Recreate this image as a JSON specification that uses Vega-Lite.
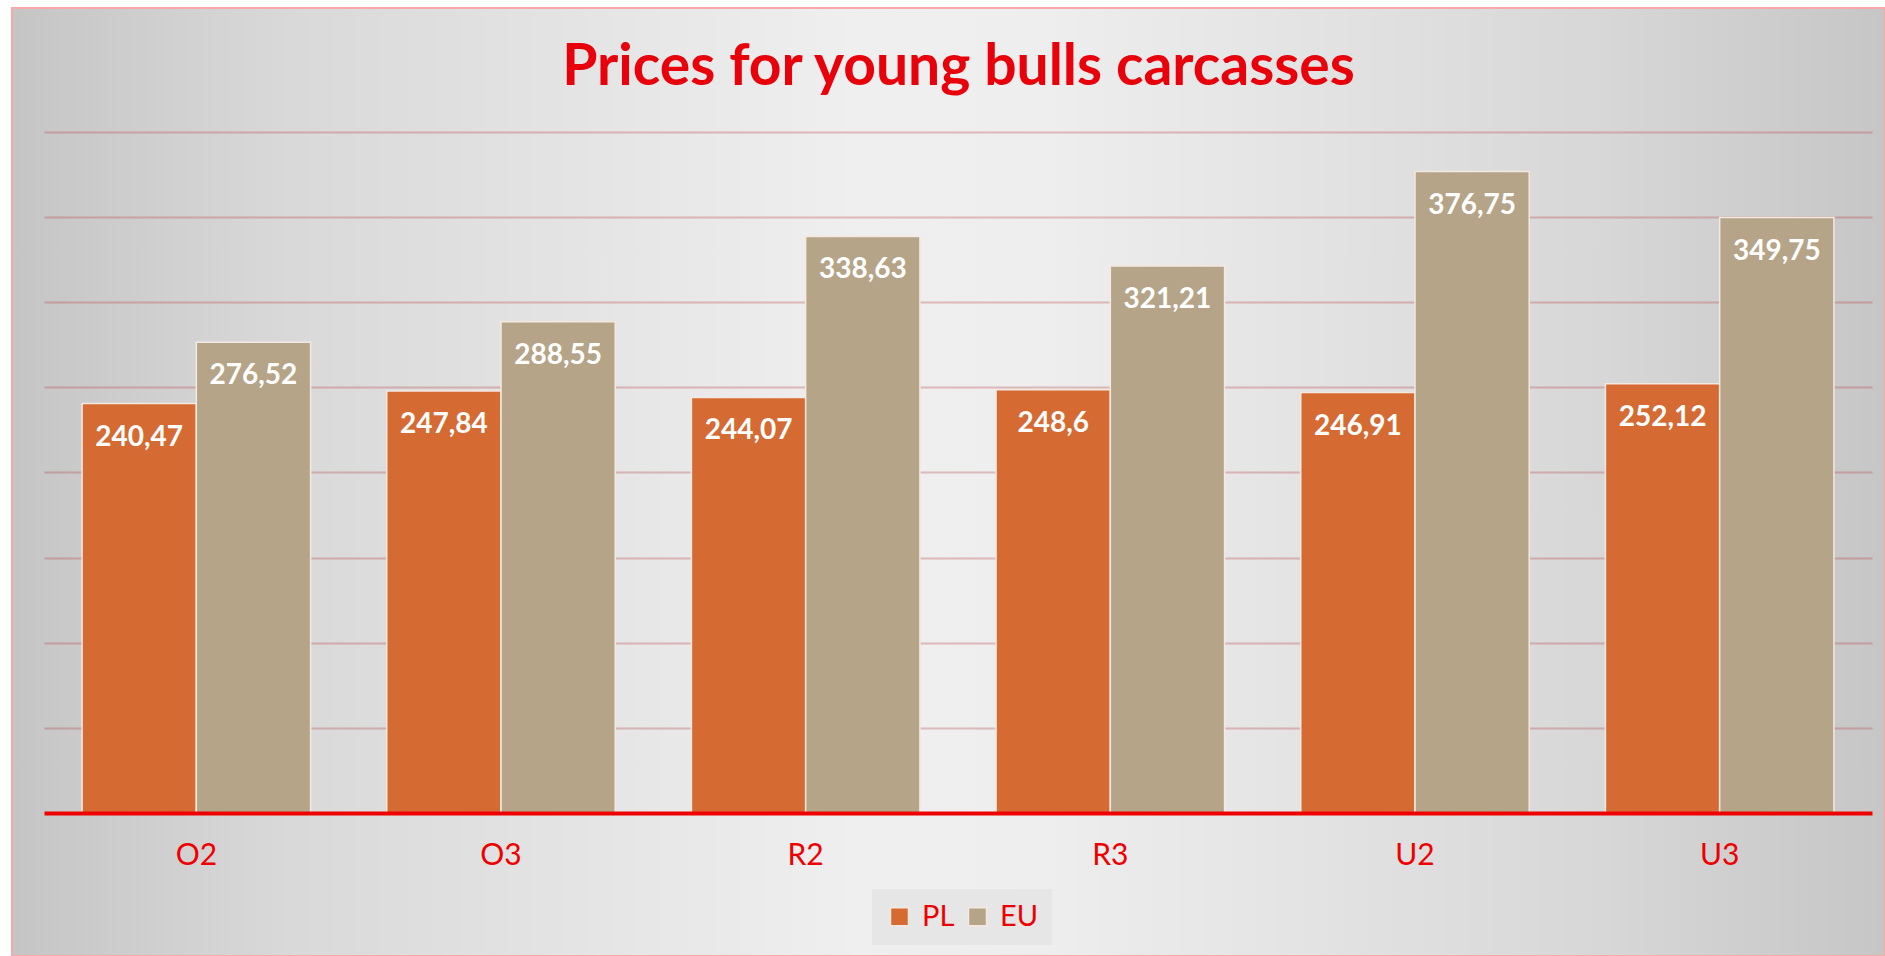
{
  "$schema": "https://vega.github.io/schema/vega-lite/v6.json",
  "width": 1873,
  "height": 948,
  "autosize": {"type": "none"},
  "padding": {"left": 12, "top": 8, "right": 0, "bottom": 0},
  "background": "#ffffff",
  "title": {
    "text": "Prices for young bulls carcasses",
    "font": "Lato",
    "fontWeight": "bold",
    "fontSize": 57,
    "color": "#e8000b",
    "anchor": "middle",
    "frame": "group",
    "baseline": "alphabetic",
    "offset": -134,
    "dx": 10
  },
  "data": {
    "values": [
      {"grade": "O2", "series": "PL", "price": 240.47},
      {"grade": "O2", "series": "EU", "price": 276.52},
      {"grade": "O3", "series": "PL", "price": 247.84},
      {"grade": "O3", "series": "EU", "price": 288.55},
      {"grade": "R2", "series": "PL", "price": 244.07},
      {"grade": "R2", "series": "EU", "price": 338.63},
      {"grade": "R3", "series": "PL", "price": 248.6},
      {"grade": "R3", "series": "EU", "price": 321.21},
      {"grade": "U2", "series": "PL", "price": 246.91},
      {"grade": "U2", "series": "EU", "price": 376.75},
      {"grade": "U3", "series": "PL", "price": 252.12},
      {"grade": "U3", "series": "EU", "price": 349.75}
    ]
  },
  "encoding": {
    "x": {
      "field": "grade",
      "type": "nominal",
      "sort": null,
      "scale": {"range": [32, 1860], "paddingInner": 0.25, "paddingOuter": 0.125},
      "axis": {
        "orient": "bottom",
        "offset": -143,
        "title": null,
        "domainColor": "#ee0000",
        "domainWidth": 4,
        "ticks": false,
        "tickSize": 0,
        "labelFont": "Lato",
        "labelFontSize": 30,
        "labelColor": "#ee0000",
        "labelPadding": 27,
        "labelAngle": 0,
        "grid": false,
        "zindex": 2
      }
    },
    "y": {
      "field": "price",
      "type": "quantitative",
      "scale": {"domain": [-84, 472.8], "nice": false, "zero": false},
      "axis": {
        "values": [50, 100, 150, 200, 250, 300, 350, 400],
        "labels": false,
        "ticks": false,
        "domain": false,
        "title": null,
        "grid": true,
        "gridColor": "#b8464e",
        "gridOpacity": 0.32,
        "gridWidth": 2,
        "zindex": 0
      }
    },
    "xOffset": {"field": "series", "type": "nominal", "sort": ["PL", "EU"]}
  },
  "layer": [
    {
      "mark": {"type": "bar", "stroke": "#f3e9e0", "strokeWidth": 1.5},
      "encoding": {
        "y2": {"datum": 0},
        "color": {
          "field": "series",
          "type": "nominal",
          "sort": ["PL", "EU"],
          "scale": {"domain": ["PL", "EU"], "range": ["#d66a33", "#b5a488"]},
          "legend": {
            "orient": "none",
            "legendX": 860,
            "legendY": 881,
            "direction": "horizontal",
            "title": null,
            "fillColor": "#e6e6e6",
            "padding": 13,
            "symbolType": "square",
            "symbolSize": 324,
            "symbolStrokeColor": "#f5e8e0",
            "symbolStrokeWidth": 1.5,
            "symbolOpacity": 1,
            "labelFont": "Lato",
            "labelFontSize": 29,
            "labelColor": "#ee0000",
            "labelOffset": 8,
            "columnPadding": 8
          }
        }
      }
    },
    {
      "mark": {
        "type": "text",
        "font": "Lato",
        "fontWeight": "bold",
        "fontSize": 28,
        "color": "#ffffff",
        "baseline": "middle",
        "align": "center",
        "dy": 34
      },
      "encoding": {
        "text": {"field": "price", "type": "quantitative", "format": ".2~f"}
      }
    }
  ],
  "config": {
    "locale": {
      "number": {"decimal": ",", "thousands": " ", "grouping": [3], "currency": ["", ""]}
    },
    "view": {
      "stroke": "#f7a8a8",
      "strokeWidth": 2,
      "fill": {
        "gradient": "linear",
        "x1": 0, "y1": 0.5, "x2": 1, "y2": 0.5,
        "stops": [
          {"offset": 0, "color": "#c5c5c5"},
          {"offset": 0.15, "color": "#d9d9d9"},
          {"offset": 0.45, "color": "#efefef"},
          {"offset": 0.55, "color": "#eeeeee"},
          {"offset": 0.85, "color": "#d7d7d7"},
          {"offset": 1, "color": "#c6c6c6"}
        ]
      }
    }
  }
}
